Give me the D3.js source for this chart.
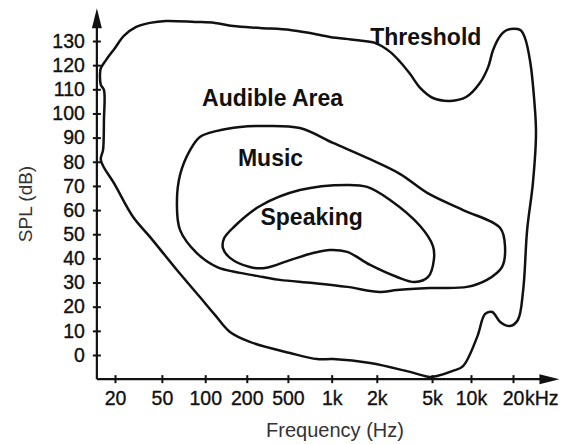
<!DOCTYPE html>
<html>
<head>
<meta charset="utf-8">
<script src="https://cdn.jsdelivr.net/npm/d3@7/dist/d3.min.js"></script>
<style>
  html, body { margin: 0; padding: 0; background: #fff; }
  svg { display: block; }
  text { font-family: "Liberation Sans", Arial, Helvetica, sans-serif; }
</style>
</head>
<body>
<svg id="chart" width="567" height="444"></svg>
<script>
// ---------- DATA ----------
// x values are positions on the (roughly evenly spaced) frequency axis: 0 = 20 Hz ... 9 = 20 kHz
const freqTickLabels = ["20", "50", "100", "200", "500", "1k", "2k", "5k", "10k", "20"];
const freqTickIndex  = [0, 1.06, 2.04, 2.98, 3.91, 4.9, 5.92, 7.17, 8.05, 9];
const freqUnit = "kHz";
const splTicks = [0, 10, 20, 30, 40, 50, 60, 70, 80, 90, 100, 110, 120, 130];

// Outer boundary: audible area (threshold of hearing / pain)
const audibleArea = [
  [-0.32, 80.7], [-0.27, 84.9], [-0.25, 97.3], [-0.25, 109.7], [-0.32, 111.8], [-0.34, 115.9],
  [-0.32, 118.8], [-0.20, 122.2], [0.00, 127.1], [0.20, 132.1], [0.48, 135.8], [0.79, 137.5],
  [1.15, 138.3], [1.81, 137.9], [2.26, 137.5], [2.67, 136.2], [3.28, 135.4], [3.96, 134.6],
  [4.41, 133.3], [4.86, 131.7], [5.43, 130.4], [5.88, 129.2], [6.22, 125.5], [6.45, 121.3],
  [6.67, 116.4], [6.90, 110.6], [7.19, 106.4], [7.58, 105.2], [7.94, 106.8], [8.25, 112.6],
  [8.44, 119.3], [8.55, 126.3], [8.71, 132.1], [8.87, 134.6], [9.16, 134.6], [9.27, 131.3],
  [9.39, 121.3], [9.48, 105.6], [9.52, 91.9], [9.45, 71.2], [9.32, 51.8], [9.23, 26.9],
  [9.11, 14.5], [8.93, 12.0], [8.71, 13.7], [8.53, 17.8], [8.37, 17.0], [8.19, 7.5],
  [7.87, -4.6], [7.64, -6.6], [7.28, -8.7], [7.12, -9.1], [6.67, -7.0], [5.77, -3.3],
  [4.93, -1.7], [4.57, -1.7], [3.96, 0.8], [3.05, 5.4], [2.60, 9.5], [2.26, 16.6],
  [1.92, 24.0], [1.40, 35.2], [0.79, 48.9], [0.41, 57.1], [0.00, 70.4]
];

// Music region
const musicArea = [
  [1.47, 74.5], [1.70, 84.9], [1.92, 90.3], [2.31, 92.8], [2.83, 94.4], [3.28, 94.8],
  [4.18, 94.0], [4.93, 87.8], [5.70, 81.6], [6.45, 74.9], [7.06, 67.1], [7.87, 60.0],
  [8.71, 52.6], [8.82, 44.7], [8.75, 36.4], [8.41, 31.1], [7.96, 28.2], [7.12, 27.7],
  [6.38, 26.9], [5.99, 26.1], [5.25, 28.2], [4.48, 29.8], [3.73, 31.1], [3.35, 32.3],
  [2.83, 34.0], [2.31, 36.4], [1.85, 42.2], [1.47, 51.8], [1.40, 62.9]
];

// Speaking region
const speakingArea = [
  [2.47, 48.4], [2.71, 53.4], [3.28, 61.7], [4.18, 68.3], [5.25, 70.4], [5.70, 69.6],
  [6.22, 64.2], [6.90, 53.4], [7.19, 45.1], [7.21, 39.3], [7.08, 32.3], [6.78, 30.2],
  [6.38, 32.3], [5.77, 37.3], [5.25, 42.7], [4.86, 43.5], [4.48, 42.2], [3.96, 39.3],
  [3.39, 36.0], [3.05, 36.4], [2.60, 40.2], [2.44, 44.3]
];

const regionLabels = ["Threshold", "Audible Area", "Music", "Speaking"];
const regionLabelAt = [[5.77, 128.4], [1.97, 103.1], [2.78, 78.3], [3.29, 53.8]];

const axisExtentX = [-0.41, 10.05];
const axisExtentY = [-10, 143.6];

// ---------- SCALES ----------
const svg = d3.select("#chart");
const x = d3.scaleLinear().domain([0, 9]).range([115, 513]);
const y = d3.scaleLinear().domain([0, 130]).range([355, 41]);

const x0 = x(axisExtentX[0]), x1 = x(axisExtentX[1]);
const y0 = y(axisExtentY[0]), y1 = y(axisExtentY[1]);

const ink = "#111";

// ---------- CURVES ----------
const line = d3.line()
  .x(d => x(d[0]))
  .y(d => y(d[1]))
  .curve(d3.curveCatmullRomClosed.alpha(0.5));

[audibleArea, musicArea, speakingArea].forEach(pts => {
  svg.append("path")
    .attr("d", line(pts))
    .attr("fill", "none")
    .attr("stroke", ink)
    .attr("stroke-width", 2.5)
    .attr("stroke-linejoin", "round");
});

// ---------- AXES ----------
const yAxis = d3.axisLeft(y).tickValues(splTicks).tickSize(4).tickPadding(8);
const gy = svg.append("g").attr("transform", `translate(${x0},0)`).call(yAxis);
gy.select(".domain").remove();
gy.selectAll(".tick line").attr("x1", 4).attr("stroke", ink).attr("stroke-width", 2);
gy.selectAll(".tick text").attr("font-size", 19.5).attr("fill", ink)
  .attr("stroke", ink).attr("stroke-width", 0.35)
  .attr("font-family", "'Liberation Sans', Arial, sans-serif");

const xAxis = d3.axisBottom(x).tickValues(freqTickIndex)
  .tickFormat((d, i) => freqTickLabels[i]).tickSize(4).tickPadding(8);
const gx = svg.append("g").attr("transform", `translate(0,${y0})`).call(xAxis);
gx.select(".domain").remove();
gx.selectAll(".tick line").attr("y1", -4).attr("stroke", ink).attr("stroke-width", 2);
gx.selectAll(".tick text").attr("font-size", 19.5).attr("fill", ink)
  .attr("stroke", ink).attr("stroke-width", 0.35)
  .attr("font-family", "'Liberation Sans', Arial, sans-serif");

svg.append("text")
  .attr("x", x(9) + 12).attr("y", y0 + 26)
  .attr("font-size", 19.5).attr("fill", ink)
  .attr("stroke", ink).attr("stroke-width", 0.35)
  .text(freqUnit);

// axis lines with arrows
svg.append("path")
  .attr("d", `M${x0},${y0}L${x0},${y1 + 14}`)
  .attr("stroke", ink).attr("stroke-width", 2.2).attr("fill", "none");
svg.append("path")
  .attr("d", `M${x0},${y0}L${x1 - 16},${y0}`)
  .attr("stroke", ink).attr("stroke-width", 2.2).attr("fill", "none");
svg.append("path")
  .attr("d", `M${x0},${y1}L${x0 - 5},${y1 + 20}L${x0 + 5},${y1 + 20}Z`)
  .attr("fill", ink);
svg.append("path")
  .attr("d", `M${x1},${y0}L${x1 - 20},${y0 - 5}L${x1 - 20},${y0 + 5}Z`)
  .attr("fill", ink);

// axis titles
svg.append("text")
  .attr("transform", `translate(32,${(y(0) + y(130)) / 2 + 6}) rotate(-90)`)
  .attr("text-anchor", "middle")
  .attr("font-size", 19).attr("fill", "#333")
  .text("SPL (dB)");

svg.append("text")
  .attr("x", (x(0) + x(9)) / 2 + 21).attr("y", 437)
  .attr("text-anchor", "middle")
  .attr("font-size", 20).attr("fill", "#333")
  .text("Frequency (Hz)");

// region labels
svg.selectAll(".region-label")
  .data(regionLabels)
  .join("text")
  .attr("class", "region-label")
  .attr("x", (d, i) => x(regionLabelAt[i][0]))
  .attr("y", (d, i) => y(regionLabelAt[i][1]))
  .attr("font-size", 23).attr("font-weight", "bold").attr("fill", ink)
  .text(d => d);
</script>
</body>
</html>
